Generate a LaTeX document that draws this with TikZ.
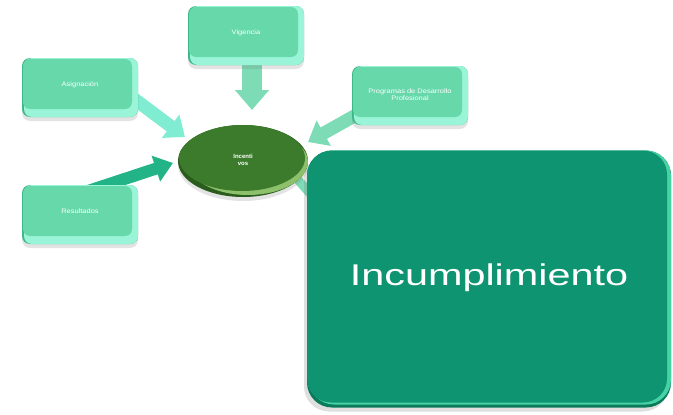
\documentclass[tikz,border=0pt]{standalone}
\usepackage{fontspec}
\setmainfont{Liberation Sans}
\usetikzlibrary{shapes.geometric,shadows,arrows.meta,backgrounds}
\definecolor{boxface}{HTML}{66D8AA}
\definecolor{boxrim}{HTML}{3DB888}
\definecolor{boxhi}{HTML}{9AF4D8}
\definecolor{ellface}{HTML}{3B7B2B}
\definecolor{ellrim}{HTML}{2A5C1E}
\definecolor{ellhi}{HTML}{8CC06A}
\definecolor{bigface}{HTML}{0F9471}
\definecolor{bigrim}{HTML}{0A7A5B}
\definecolor{bighi}{HTML}{45D3A6}
\definecolor{arrlight}{HTML}{7DDCB5}
\definecolor{arrcyan}{HTML}{80EDD2}
\definecolor{arrdark}{HTML}{22B386}
\tikzset{
  smallbox/.style={rectangle, rounded corners=8pt, minimum width=116pt, minimum height=59pt,
    inner sep=0pt, fill=boxrim, text=white, align=center,
    font=\fontsize{6.5}{7.5}\selectfont,
    drop shadow={opacity=0.22, shadow xshift=0pt, shadow yshift=-4pt},
    path picture={
      \fill[boxhi, rounded corners=8pt] ([xshift=2pt]path picture bounding box.south west) rectangle (path picture bounding box.north east);
      \fill[boxface, rounded corners=7pt] ([xshift=1pt,yshift=8pt]path picture bounding box.south west) rectangle ([xshift=-6pt,yshift=-1pt]path picture bounding box.north east);
    }},
  hub/.style={ellipse, minimum width=130pt, minimum height=72pt, inner sep=0pt,
    fill=ellrim, text=white, align=center, font=\bfseries\fontsize{6}{7}\selectfont,
    drop shadow={opacity=0.22, shadow xshift=0pt, shadow yshift=-4pt},
    path picture={
      \fill[ellhi] ([xshift=5pt,yshift=-1pt]path picture bounding box.center) ellipse [x radius=60pt, y radius=33pt];
      \fill[ellface] ([xshift=-1pt,yshift=3pt]path picture bounding box.center) ellipse [x radius=63pt, y radius=33pt];
    }},
  bigbox/.style={rectangle, rounded corners=25pt, minimum width=364pt, minimum height=257pt,
    inner sep=0pt, fill=bigrim, text=white,
    drop shadow={opacity=0.25, shadow xshift=-3pt, shadow yshift=-4pt},
    path picture={
      \fill[bighi, rounded corners=25pt] ([xshift=2pt,yshift=3pt]path picture bounding box.south west) rectangle (path picture bounding box.north east);
      \fill[bigface, rounded corners=24pt] ([yshift=5pt]path picture bounding box.south west) rectangle ([xshift=-4pt]path picture bounding box.north east);
    }},
  blockarrow/.style n args={4}{draw=#4, line width=#1, -{Triangle[width=#2, length=#3, fill=#4]}}
}
\begin{document}
\begin{tikzpicture}[x=1pt,y=-1pt]
\useasboundingbox (0,0) rectangle (673,415);
% nodes
\node[smallbox] (asig) at (80,87.5) {\raisebox{6pt}{\scalebox{1.15}[1]{Asignación}}};
\node[smallbox] (res) at (80,214.5) {\raisebox{6pt}{\scalebox{1.15}[1]{Resultados}}};
\node[smallbox] (vig) at (246,35.5) {\raisebox{6pt}{\scalebox{1.15}[1]{Vigencia}}};
\node[smallbox] (prog) at (410,95.5) {\raisebox{6pt}{\scalebox{1.15}[1]{\begin{tabular}{@{}c@{}}Programas de Desarrollo\\Profesional\end{tabular}}}};
\node[hub] (inc) at (243,161) {\raisebox{6pt}{\begin{tabular}{@{}c@{}}Incenti\\vos\end{tabular}}};
% arrow end points
\coordinate (vigA) at ([xshift=6pt,yshift=4pt]vig.south);
\coordinate (vigB) at (252,110);
\coordinate (asigA) at (125,92);
\coordinate (asigB) at (185,137);
\coordinate (resA) at (85,192);
\coordinate (resB) at (173,163);
\coordinate (progA) at (365,110);
\coordinate (progB) at (308,142);
\coordinate (incA) at (285,165);
\coordinate (incB) at (335,222);
\begin{scope}[on background layer]
\draw[blockarrow={20pt}{33pt}{20pt}{arrlight}] (vigA) -- (vigB);
\draw[blockarrow={13pt}{28pt}{18pt}{arrcyan}] (asigA) -- (asigB);
\draw[blockarrow={12pt}{26pt}{18pt}{arrdark}] (resA) -- (resB);
\draw[blockarrow={13pt}{28pt}{18pt}{arrlight}] (progA) -- (progB);
\draw[blockarrow={9pt}{22pt}{16pt}{arrlight}] (incA) -- (incB);
\end{scope}
\node[bigbox] (incum) at (489,279) {\raisebox{8pt}{\scalebox{1.38}[1]{\fontsize{30}{36}\selectfont Incumplimiento}}};
\end{tikzpicture}
\end{document}
